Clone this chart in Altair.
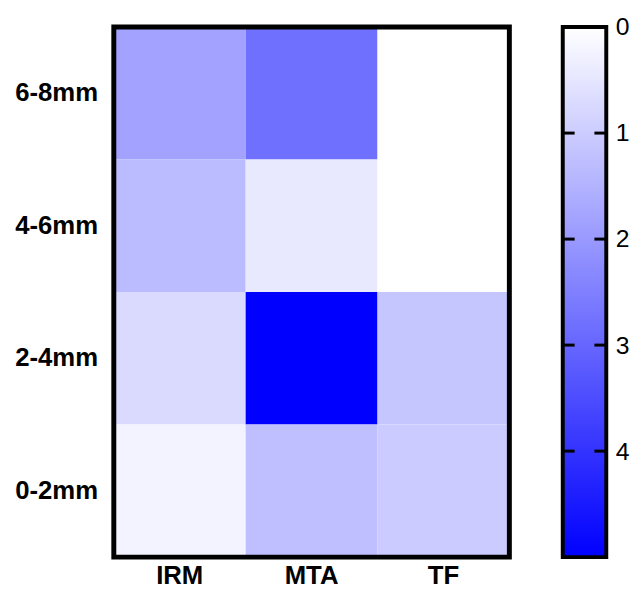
import altair as alt
import pandas as pd

groups = ["IRM", "MTA", "TF"]
depths = ["6-8mm", "4-6mm", "2-4mm", "0-2mm"]
irm_vals = [1.80, 1.33, 0.73, 0.24]
mta_vals = [2.80, 0.45, 5.00, 1.25]
tf_vals = [0.00, 0.00, 1.12, 1.02]
cbar_labels = [0, 1, 2, 3, 4]
cbar_marks = [1, 2, 3, 4]
cbar_min = 0
cbar_max = 5

rows = []
for g, vals in zip(groups, [irm_vals, mta_vals, tf_vals]):
    for d, v in zip(depths, vals):
        rows.append({"group": g, "depth": d, "value": v})
df = pd.DataFrame(rows)

FONT = "Liberation Sans"
W, H = 400, 536
CBW = 44

color_scale = alt.Scale(domain=[cbar_min, cbar_max], range=["#ffffff", "#0000ff"], interpolate="rgb")

heat = alt.Chart(df).mark_rect(strokeWidth=0).encode(
    x=alt.X("group:N", sort=groups, scale=alt.Scale(paddingInner=0, paddingOuter=0),
            axis=alt.Axis(title=None, orient="bottom", labelAngle=0, ticks=False, tickSize=0, domain=False,
                          labelFont=FONT, labelFontSize=26, labelFontWeight="bold",
                          labelColor="black", labelPadding=6)),
    y=alt.Y("depth:N", sort=depths, scale=alt.Scale(paddingInner=0, paddingOuter=0),
            axis=alt.Axis(title=None, ticks=False, tickSize=0, domain=False, labelFont=FONT,
                          labelFontSize=26, labelFontWeight="bold", labelColor="black",
                          labelPadding=16.5)),
    color=alt.Color("value:Q", scale=color_scale, legend=None),
)

frame = alt.Chart(pd.DataFrame({"k": [0]})).mark_rect(
    filled=False, stroke="black", strokeWidth=5
).encode(
    x=alt.value(0), x2=alt.value("width"), y=alt.value(0), y2=alt.value("height")
)

heat_panel = alt.layer(heat, frame).properties(width=W, height=H)

cb_scale = alt.Scale(domain=[cbar_min, cbar_max], reverse=True, nice=False, zero=False)
cb_axis = alt.Axis(orient="right", values=cbar_labels, ticks=False, tickSize=0, domain=False,
                   grid=False, title=None, labelFont=FONT, labelFontSize=25,
                   labelColor="black", labelPadding=9)

grad = alt.Chart(pd.DataFrame({"lo": [cbar_min], "hi": [cbar_max]})).mark_rect(
    fill=alt.Gradient(
        gradient="linear",
        stops=[alt.GradientStop(color="#ffffff", offset=0),
               alt.GradientStop(color="#0000ff", offset=1)],
        x1=0, x2=0, y1=0, y2=1),
    stroke="black", strokeWidth=4,
).encode(
    y=alt.Y("lo:Q", scale=cb_scale, axis=cb_axis),
    y2="hi:Q",
    x=alt.value(0), x2=alt.value("width"),
)

tick_df = pd.DataFrame({"lo": cbar_marks})
tick_l = alt.Chart(tick_df).mark_rule(color="black", strokeWidth=3).encode(
    y=alt.Y("lo:Q", scale=cb_scale, axis=cb_axis), x=alt.value(0), x2=alt.value(12))
tick_r = alt.Chart(tick_df).mark_rule(color="black", strokeWidth=3).encode(
    y=alt.Y("lo:Q", scale=cb_scale, axis=cb_axis), x=alt.value(CBW - 12), x2=alt.value(CBW))

cbar_panel = alt.layer(grad, tick_l, tick_r).properties(width=CBW, height=H)

chart = alt.hconcat(heat_panel, cbar_panel, spacing=48).properties(
    padding={"left": 6, "top": 3, "right": 0, "bottom": 0}
).configure_view(strokeWidth=0).configure(background="white")

chart.save("out.html", embed_options={"renderer": "svg", "actions": False})
